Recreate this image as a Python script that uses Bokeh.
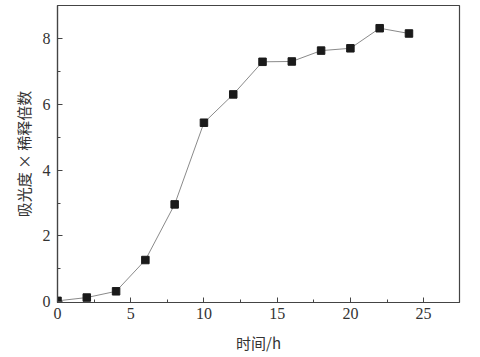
from bokeh.plotting import figure
from bokeh.models import ColumnDataSource, Range1d, FixedTicker
from bokeh.embed import file_html
from bokeh.resources import INLINE

time_h = [0, 2, 4, 6, 8, 10, 12, 14, 16, 18, 20, 22, 24]
absorbance = [0.03, 0.13, 0.32, 1.27, 2.96, 5.44, 6.30, 7.29, 7.30, 7.63, 7.70, 8.31, 8.15]
x_ticks = [0, 5, 10, 15, 20, 25]
y_ticks = [0, 2, 4, 6, 8]

src = ColumnDataSource(dict(x=time_h, y=absorbance))

p = figure(width=480, height=357, output_backend="svg", toolbar_location=None,
           x_range=Range1d(0, 27.45), y_range=Range1d(-0.02, 9.0),
           min_border_left=57, min_border_right=21, min_border_top=5, min_border_bottom=55)
p.background_fill_color = "white"
p.border_fill_color = "white"
p.grid.visible = False
p.outline_line_color = "#444444"
p.outline_line_width = 1.2

p.line("x", "y", source=src, line_color="#8a8a8a", line_width=1)
p.scatter("x", "y", source=src, marker="square", size=7.5, fill_color="#1a1a1a", line_color="#1a1a1a")

p.xaxis.ticker = FixedTicker(ticks=x_ticks, minor_ticks=[2.5, 7.5, 12.5, 17.5, 22.5])
p.yaxis.ticker = FixedTicker(ticks=y_ticks, minor_ticks=[1, 3, 5, 7])

for ax in (p.xaxis[0], p.yaxis[0]):
    ax.axis_line_color = "#444444"
    ax.axis_line_width = 1.2
    ax.major_tick_in = 5
    ax.major_tick_out = 0
    ax.minor_tick_in = 3
    ax.minor_tick_out = 0
    ax.major_tick_line_color = "#444444"
    ax.minor_tick_line_color = "#444444"
    ax.major_label_text_font = "serif"
    ax.major_label_text_font_size = "16px"
    ax.major_label_text_color = "#333333"
    ax.axis_label_text_font = "Noto Sans CJK SC"
    ax.axis_label_text_font_size = "15px"
    ax.axis_label_text_font_style = "normal"
    ax.axis_label_text_color = "#333333"

p.xaxis.axis_label = "时间/h"
p.yaxis.axis_label = "吸光度 × 稀释倍数"
p.xaxis.major_label_standoff = 5
p.yaxis.major_label_standoff = 7
p.xaxis.axis_label_standoff = 10
p.yaxis.axis_label_standoff = 6

open("out.html", "w").write(file_html(p, INLINE))
